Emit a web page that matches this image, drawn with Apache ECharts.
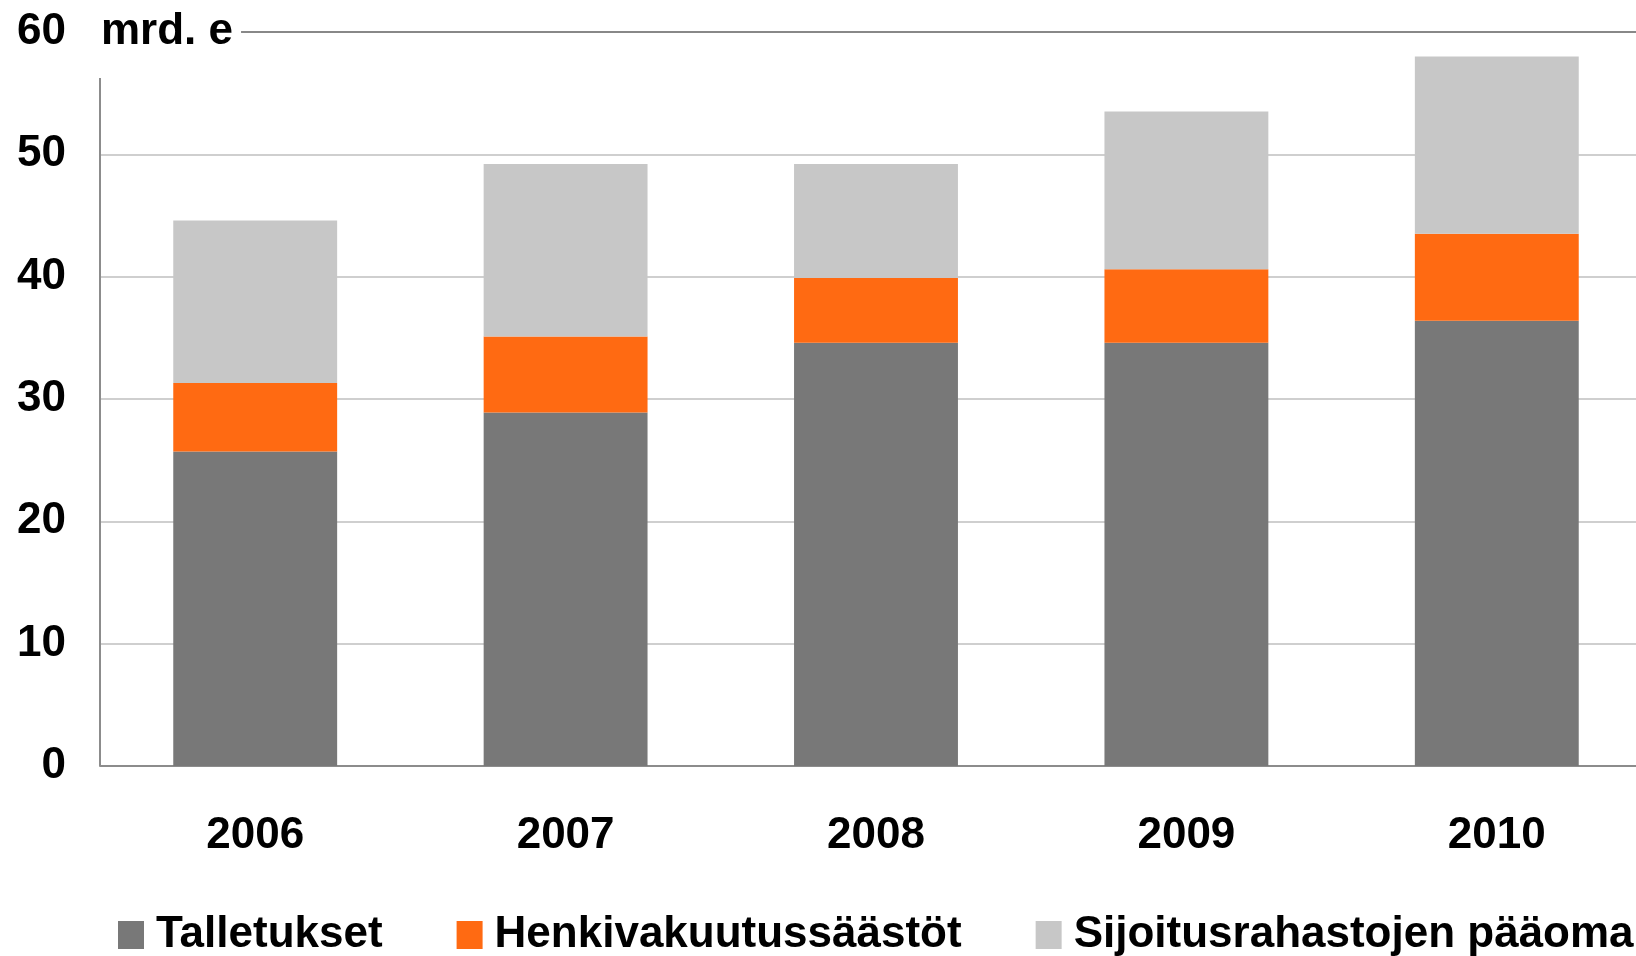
<!DOCTYPE html>
<html>
<head>
<meta charset="utf-8">
<script src="https://cdn.jsdelivr.net/npm/echarts@6/dist/echarts.min.js"></script>
<style>
    html, body { margin: 0; padding: 0; background: #fff; }
    #chart { width: 1636px; height: 956px; }
</style>
</head>
<body>
<div id="chart"></div>
<script>
var years = ['2006', '2007', '2008', '2009', '2010'];
var talletukset = [25.7, 28.9, 34.6, 34.6, 36.4];
var henkivakuutus = [5.6, 6.2, 5.3, 6.0, 7.1];
var sijoitus = [13.3, 14.1, 9.3, 12.9, 14.5];

var fontName = 'Liberation Sans';

var myChart = echarts.init(document.getElementById('chart'));

var option = {
    animation: false,
    color: ['#787878', '#FF6A12', '#C7C7C7'],
    grid: {
        left: 100,
        top: 32,
        right: -16,
        bottom: 190,
        outerBoundsMode: 'none'
    },
    legend: {
        left: 113,
        top: 908,
        width: 1600,
        itemWidth: 26,
        itemHeight: 28,
        itemGap: 74,
        icon: 'rect',
        textStyle: {
            fontFamily: fontName,
            fontWeight: 'bold',
            fontSize: 44,
            color: '#000',
            padding: [0, 0, 0, 7]
        },
        data: ['Talletukset', 'Henkivakuutussäästöt', 'Sijoitusrahastojen pääoma']
    },
    xAxis: {
        type: 'category',
        data: years,
        axisLine: { lineStyle: { color: '#8c8c8c', width: 2 } },
        axisTick: { show: false },
        axisLabel: {
            margin: 48,
            fontFamily: fontName,
            fontWeight: 'bold',
            fontSize: 44,
            color: '#000'
        }
    },
    yAxis: {
        type: 'value',
        min: 0,
        max: 60,
        interval: 10,
        name: 'mrd. e',
        nameLocation: 'end',
        nameGap: 0,
        nameTextStyle: {
            align: 'left',
            verticalAlign: 'middle',
            fontFamily: fontName,
            fontWeight: 'bold',
            fontSize: 44,
            color: '#000',
            backgroundColor: '#fff',
            padding: [0, 8, 0, 1]
        },
        axisLine: { show: false },
        axisTick: { show: false },
        axisLabel: {
            margin: 34,
            fontFamily: fontName,
            fontWeight: 'bold',
            fontSize: 44,
            color: '#000'
        },
        splitLine: {
            lineStyle: {
                color: ['#cfcfcf', '#cfcfcf', '#cfcfcf', '#cfcfcf', '#cfcfcf', '#cfcfcf', '#888888'],
                width: 2
            }
        }
    },
    series: [
        {
            name: 'Talletukset',
            type: 'bar',
            stack: 'total',
            barWidth: '52.8%',
            data: talletukset
        },
        {
            name: 'Henkivakuutussäästöt',
            type: 'bar',
            stack: 'total',
            barWidth: '52.8%',
            data: henkivakuutus
        },
        {
            name: 'Sijoitusrahastojen pääoma',
            type: 'bar',
            stack: 'total',
            barWidth: '52.8%',
            data: sijoitus
        }
    ]
};

myChart.setOption(option);

// pystyakselin viiva alkaa vasta otsikon alapuolelta
var p0 = myChart.convertToPixel({ gridIndex: 0 }, [0, 0]);
var pTop = myChart.convertToPixel({ yAxisIndex: 0 }, 56.25);
myChart.setOption({
    graphic: [{
        type: 'line',
        z: 10,
        shape: { x1: 100, y1: pTop, x2: 100, y2: p0[1] },
        style: { stroke: '#8c8c8c', lineWidth: 2 }
    }]
});
</script>
</body>
</html>
